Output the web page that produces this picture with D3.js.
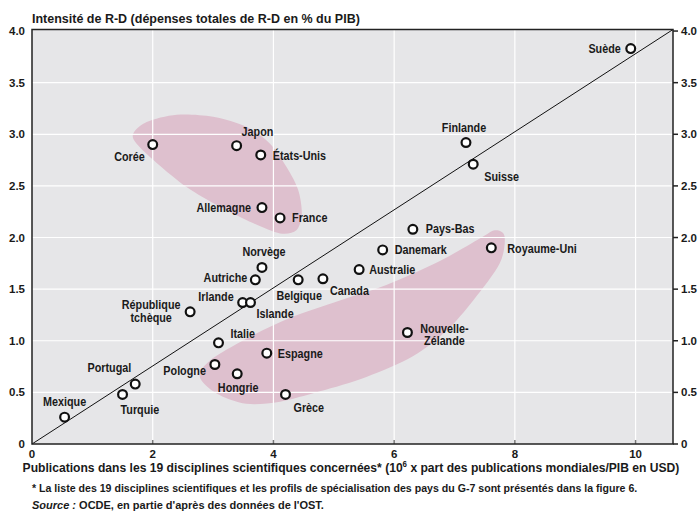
<!DOCTYPE html>
<html>
<head>
<meta charset="utf-8">
<script src="https://cdn.jsdelivr.net/npm/d3@7"></script>
<style>
  body { margin: 0; background: #fff; }
  svg text { font-family: "Liberation Sans", Arial, sans-serif; font-weight: bold; fill: #1a1a1a; }
</style>
</head>
<body>
<svg id="svg" width="698" height="513"></svg>
<script>
// data
const countries = ['Suède', 'Finlande', 'Suisse', 'Corée', 'Japon', 'États-Unis', 'Allemagne', 'France',
  'Norvège', 'Autriche', 'Belgique', 'Canada', 'Irlande', 'Islande', 'République tchèque', 'Italie',
  'Espagne', 'Pologne', 'Hongrie', 'Grèce', 'Portugal', 'Turquie', 'Mexique', 'Pays-Bas', 'Danemark',
  'Australie', 'Royaume-Uni', 'Nouvelle-Zélande'];
const publications = [9.92, 7.19, 7.31, 2.0, 3.39, 3.79, 3.81, 4.11,
  3.81, 3.70, 4.41, 4.82, 3.49, 3.62, 2.62, 3.09,
  3.89, 3.03, 3.40, 4.20, 1.71, 1.50, 0.54, 6.31, 5.81,
  5.42, 7.61, 6.22];
const intensite = [3.83, 2.92, 2.71, 2.90, 2.89, 2.80, 2.29, 2.19,
  1.71, 1.59, 1.59, 1.60, 1.37, 1.37, 1.28, 0.98,
  0.88, 0.77, 0.68, 0.48, 0.58, 0.48, 0.26, 2.08, 1.88,
  1.69, 1.90, 1.08];

const xTicks = [0, 2, 4, 6, 8, 10];
const yTicks = [0, 0.5, 1.0, 1.5, 2.0, 2.5, 3.0, 3.5, 4.0];

// outlines of the two shaded groups (data units)
const groupHigh = [[1.68, 3.01], [1.90, 3.12], [2.40, 3.19], [3.00, 3.17], [3.56, 3.07], [3.94, 2.91],
  [4.22, 2.68], [4.41, 2.46], [4.47, 2.23], [4.38, 2.07], [4.11, 2.04], [3.66, 2.14], [3.11, 2.30],
  [2.56, 2.49], [2.07, 2.72], [1.73, 2.91]];
const groupLow = [[7.83, 2.01], [7.75, 1.75], [7.31, 1.39], [6.87, 1.10], [6.31, 0.85], [5.54, 0.65],
  [4.77, 0.51], [4.11, 0.41], [3.55, 0.39], [3.06, 0.49], [2.78, 0.65], [2.95, 0.81], [3.55, 1.02],
  [4.27, 1.22], [5.10, 1.39], [5.87, 1.54], [6.75, 1.77], [7.42, 1.99], [7.67, 2.07]];

const title = 'Intensité de R-D (dépenses totales de R-D en % du PIB)';
const xTitleA = 'Publications dans les 19 disciplines scientifiques concernées* (10';
const xTitleB = ' x part des publications mondiales/PIB en USD)';
const note = '* La liste des 19 disciplines scientifiques et les profils de spécialisation des pays du G-7 sont présentés dans la figure 6.';

// label placement: anchor, dx, dy (px)
const labelPos = {
  'Suède': ['end', -10, 4], 'Finlande': ['middle', -2, -11], 'Suisse': ['start', 11, 17],
  'Corée': ['end', -8, 16], 'Japon': ['start', 5, -10], 'États-Unis': ['start', 12, 5],
  'Allemagne': ['end', -11, 4], 'France': ['start', 12, 4], 'Norvège': ['middle', 2, -11],
  'Autriche': ['end', -8, 2], 'Belgique': ['middle', 1, 20], 'Canada': ['start', 7, 16],
  'Irlande': ['end', -9, -2], 'Islande': ['start', 6, 15], 'République tchèque': ['middle', -39, -3],
  'Italie': ['start', 12, -5], 'Espagne': ['start', 11, 5], 'Pologne': ['end', -9, 10],
  'Hongrie': ['middle', 1, 18], 'Grèce': ['start', 8, 18], 'Portugal': ['end', -4, -12],
  'Turquie': ['start', -2, 20], 'Mexique': ['middle', 0, -11], 'Pays-Bas': ['start', 13, 4],
  'Danemark': ['start', 12, 4], 'Australie': ['start', 10, 4], 'Royaume-Uni': ['start', 16, 5],
  'Nouvelle-Zélande': ['middle', 37, 0]
};
const splitLabels = { 'République tchèque': ['République', 'tchèque'], 'Nouvelle-Zélande': ['Nouvelle-', 'Zélande'] };

const svg = d3.select('svg');
const mLeft = 32, mRight = 673, mTop = 29.5, mBottom = 444;
const narrow = 0.83; // no condensed face installed, squeeze horizontally

const x = d3.scaleLinear().domain([0, 10.62]).range([mLeft, mRight]);
const y = d3.scaleLinear().domain([0, 4.015]).range([mBottom, mTop]);

// plot background
svg.append('rect')
  .attr('x', mLeft).attr('y', mTop)
  .attr('width', mRight - mLeft).attr('height', mBottom - mTop)
  .attr('fill', '#e6e6e8');

// shaded groups
const blob = d3.line().x(d => x(d[0])).y(d => y(d[1])).curve(d3.curveCardinalClosed.tension(0.1));
svg.selectAll('path.group')
  .data([groupHigh, groupLow])
  .enter()
  .append('path')
  .attr('class', 'group')
  .attr('d', blob)
  .attr('fill', '#dec0ce');

// white grid
svg.append('g')
  .selectAll('line')
  .data(xTicks.slice(1))
  .enter()
  .append('line')
  .attr('x1', d => x(d)).attr('x2', d => x(d))
  .attr('y1', mTop).attr('y2', mBottom)
  .attr('stroke', '#fff').attr('stroke-width', 1.2);
svg.append('g')
  .selectAll('line')
  .data(yTicks.slice(1, -1))
  .enter()
  .append('line')
  .attr('x1', mLeft).attr('x2', mRight)
  .attr('y1', d => y(d)).attr('y2', d => y(d))
  .attr('stroke', '#fff').attr('stroke-width', 1.2);

// small inner ticks on the bottom
svg.append('g')
  .selectAll('line')
  .data(xTicks.slice(1))
  .enter()
  .append('line')
  .attr('x1', d => x(d)).attr('x2', d => x(d))
  .attr('y1', mBottom).attr('y2', mBottom - 4)
  .attr('stroke', '#777').attr('stroke-width', 1.5);

// diagonal
svg.append('line')
  .attr('x1', x(0)).attr('y1', y(0))
  .attr('x2', x(10.62)).attr('y2', y(4.015))
  .attr('stroke', '#111').attr('stroke-width', 1);

// frame
svg.append('rect')
  .attr('x', mLeft).attr('y', mTop)
  .attr('width', mRight - mLeft).attr('height', mBottom - mTop)
  .attr('fill', 'none').attr('stroke', '#222').attr('stroke-width', 1.5);

// right outer ticks
svg.append('g')
  .selectAll('line')
  .data(yTicks)
  .enter()
  .append('line')
  .attr('x1', mRight).attr('x2', mRight + 5)
  .attr('y1', d => y(d)).attr('y2', d => y(d))
  .attr('stroke', '#222').attr('stroke-width', 1.5);

const fmt = d => d === 0 ? '0' : d3.format('.1f')(d);

// left / right tick labels
svg.append('g')
  .selectAll('text')
  .data(yTicks)
  .enter()
  .append('text')
  .attr('x', 25).attr('y', d => y(d) + 4)
  .attr('text-anchor', 'end')
  .attr('font-size', 11.5)
  .text(fmt);
svg.append('g')
  .selectAll('text')
  .data(yTicks)
  .enter()
  .append('text')
  .attr('x', 681).attr('y', d => y(d) + 4)
  .attr('font-size', 11.5)
  .text(fmt);

// bottom tick labels
svg.append('g')
  .selectAll('text')
  .data(xTicks)
  .enter()
  .append('text')
  .attr('x', d => x(d)).attr('y', 458)
  .attr('text-anchor', 'middle')
  .attr('font-size', 11.5)
  .text(d => d);

// points
const pts = countries.map((c, i) => ({ name: c, px: publications[i], rd: intensite[i] }));
svg.append('g')
  .selectAll('circle')
  .data(pts)
  .enter()
  .append('circle')
  .attr('cx', d => x(d.px)).attr('cy', d => y(d.rd))
  .attr('r', 4.4)
  .attr('fill', '#fff').attr('stroke', '#111').attr('stroke-width', 2.2);

// country labels, squeezed around their anchor point
const lbl = svg.append('g')
  .selectAll('text')
  .data(pts)
  .enter()
  .append('text')
  .attr('font-size', 13)
  .attr('text-anchor', d => labelPos[d.name][0])
  .attr('transform', d => `translate(${x(d.px) + labelPos[d.name][1]},${y(d.rd) + labelPos[d.name][2]}) scale(${narrow},1)`);
lbl.each(function (d) {
  const t = d3.select(this);
  if (splitLabels[d.name]) {
    splitLabels[d.name].forEach((s, k) => {
      t.append('tspan').attr('x', 0).attr('dy', k === 0 ? 0 : 13).text(s);
    });
  } else {
    t.text(d.name);
  }
});

// titles and notes
svg.append('text').attr('x', 32).attr('y', 23).attr('font-size', 12.5).text(title);

const xt = svg.append('text').attr('text-anchor', 'middle').attr('font-size', 13);
xt.append('tspan').text(xTitleA);
xt.append('tspan').attr('dy', -5).attr('font-size', 8.5).text('6');
xt.append('tspan').attr('dy', 5).text(xTitleB);
const xtW = xt.node().getComputedTextLength();
xt.attr('transform', `translate(351,472) scale(${658 / xtW},1)`);

svg.append('text').attr('x', 32).attr('y', 492).attr('font-size', 10.6).text(note);
const src = svg.append('text').attr('x', 32).attr('y', 509).attr('font-size', 11);
src.append('tspan').attr('font-style', 'italic').text('Source :');
src.append('tspan').text(' OCDE, en partie d\'après des données de l\'OST.');
</script>
</body>
</html>
